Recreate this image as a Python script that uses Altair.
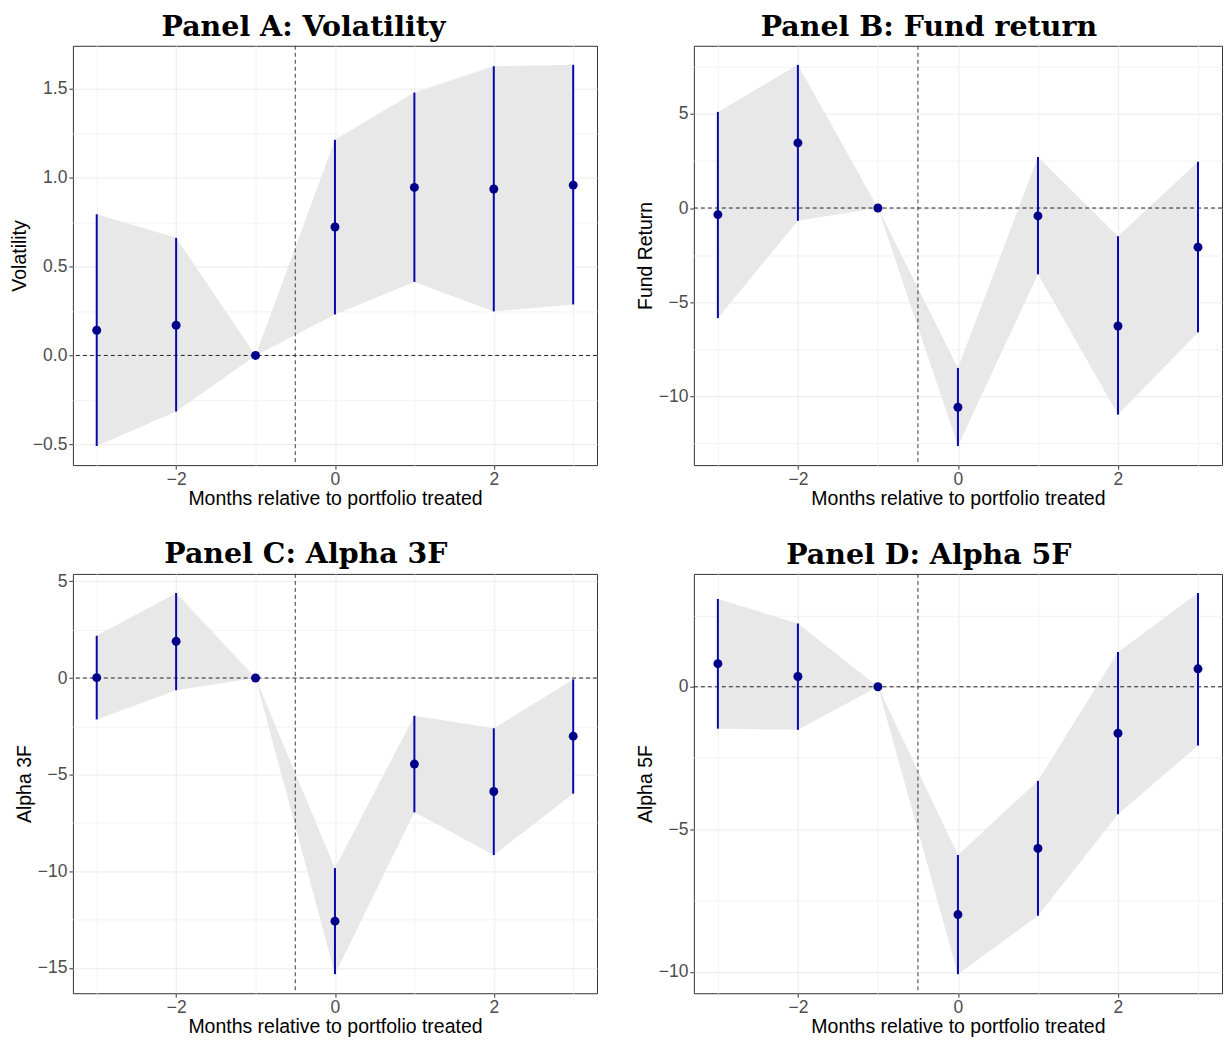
import altair as alt
import numpy as np
import pandas as pd

months = [-3, -2, -1, 0, 1, 2, 3]

# Panel A: Volatility
vol_est = [0.142, 0.17, 0.0, 0.723, 0.946, 0.937, 0.959]
vol_lo = [-0.51, -0.316, 0.0, 0.231, 0.414, 0.248, 0.287]
vol_hi = [0.795, 0.662, 0.0, 1.214, 1.48, 1.628, 1.636]

# Panel B: Fund return
ret_est = [-0.35, 3.46, 0.0, -10.59, -0.42, -6.27, -2.08]
ret_lo = [-5.85, -0.68, 0.0, -12.65, -3.52, -10.98, -6.61]
ret_hi = [5.11, 7.61, 0.0, -8.5, 2.71, -1.5, 2.46]

# Panel C: Alpha 3F
a3_est = [0.02, 1.9, 0.0, -12.58, -4.45, -5.87, -3.01]
a3_lo = [-2.14, -0.63, 0.0, -15.32, -6.95, -9.16, -5.98]
a3_hi = [2.19, 4.4, 0.0, -9.83, -1.95, -2.6, -0.07]

# Panel D: Alpha 5F
a5_est = [0.81, 0.36, 0.0, -7.99, -5.67, -1.63, 0.63]
a5_lo = [-1.47, -1.51, 0.0, -10.08, -8.03, -4.47, -2.06]
a5_hi = [3.08, 2.22, 0.0, -5.9, -3.3, 1.22, 3.29]

x_title = "Months relative to portfolio treated"

PH = 420
LABEL_FONT = "Liberation Sans"


def expand(lo, hi):
    pad = 0.05 * (hi - lo)
    return [lo - pad, hi + pad]


def grid_values(dom, step):
    half = step / 2.0
    start = np.ceil(dom[0] / half) * half
    vals = np.arange(start, dom[1] + 1e-9, half)
    return [round(float(v), 6) for v in vals]


def minor_test(step):
    return f"abs(datum.value/{step} - round(datum.value/{step})) > 0.01"


def make_axis(title, values, step, fmt, tpad, lpad):
    test = minor_test(step)
    return alt.Axis(
        title=title,
        values=values,
        labelExpr=f"{test} ? '' : format(datum.value, '{fmt}')",
        grid=True,
        gridColor={"condition": {"test": test, "value": "#F2F2F2"}, "value": "#EBEBEB"},
        gridWidth=1,
        tickOpacity={"condition": {"test": test, "value": 0}, "value": 1},
        tickColor="#333333",
        tickSize=4,
        tickWidth=1,
        domain=False,
        labelFont=LABEL_FONT,
        labelFontSize=17.5,
        labelColor="#4D4D4D",
        labelPadding=lpad,
        titleFont=LABEL_FONT,
        titleFontSize=19.5,
        titleFontWeight="normal",
        titleColor="black",
        titlePadding=tpad,
    )


def panel(title, ytitle, est, lo, hi, ystep, yfmt, pw):
    df = pd.DataFrame({"month": months, "est": est, "lo": lo, "hi": hi})
    xdom = expand(min(months), max(months))
    ydom = expand(min(lo), max(hi))
    xs = alt.Scale(domain=xdom, nice=False, zero=False)
    ys = alt.Scale(domain=ydom, nice=False, zero=False)
    xaxis = make_axis(x_title, grid_values(xdom, 2), 2, "d", 2, 1)
    yaxis = make_axis(ytitle, grid_values(ydom, ystep), ystep, yfmt, 3, 2)

    base = alt.Chart(df)
    ribbon = base.mark_area(color="#E8E8E8", opacity=1).encode(
        x=alt.X("month:Q", scale=xs, axis=xaxis),
        y=alt.Y("lo:Q", scale=ys, axis=yaxis),
        y2="hi:Q",
    )
    vline = alt.Chart(pd.DataFrame({"v": [-0.5]})).mark_rule(
        color="#3A3A3A", strokeDash=[4, 3], strokeWidth=1
    ).encode(x=alt.X("v:Q", scale=xs, axis=xaxis))
    hline = alt.Chart(pd.DataFrame({"h": [0.0]})).mark_rule(
        color="#222222", strokeDash=[4, 3], strokeWidth=1
    ).encode(y=alt.Y("h:Q", scale=ys, axis=yaxis))
    bars = base.mark_rule(color="#0808AC", strokeWidth=2).encode(
        x=alt.X("month:Q", scale=xs, axis=xaxis),
        y=alt.Y("lo:Q", scale=ys, axis=yaxis),
        y2="hi:Q",
    )
    pts = base.mark_circle(size=80, color="#00008B", opacity=1).encode(
        x=alt.X("month:Q", scale=xs, axis=xaxis),
        y=alt.Y("est:Q", scale=ys, axis=yaxis),
    )
    return alt.layer(ribbon, vline, hline, bars, pts).properties(
        width=pw,
        height=PH,
        title=alt.TitleParams(
            text=title,
            font="DejaVu Serif",
            fontSize=28.5,
            fontWeight="bold",
            color="black",
            anchor="middle",
            frame="bounds",
            offset=4,
        ),
    )


pA = panel("Panel A: Volatility", "Volatility", vol_est, vol_lo, vol_hi, 0.5, ".1f", 525)
pB = panel("Panel B: Fund return", "Fund Return", ret_est, ret_lo, ret_hi, 5, "d", 529)
pC = panel("Panel C: Alpha 3F", "Alpha 3F", a3_est, a3_lo, a3_hi, 5, "d", 525)
pD = panel("Panel D: Alpha 5F", "Alpha 5F", a5_est, a5_lo, a5_hi, 5, "d", 529)

chart = alt.concat(
    pA, pB, pC, pD, columns=2, spacing={"row": 30, "column": 36}
).properties(
    padding={"left": 0, "top": 3, "right": 0, "bottom": 0},
    background="white",
).configure_view(stroke="#333333", strokeWidth=1)

chart.save("out.html", embed_options={"renderer": "svg", "actions": False})
